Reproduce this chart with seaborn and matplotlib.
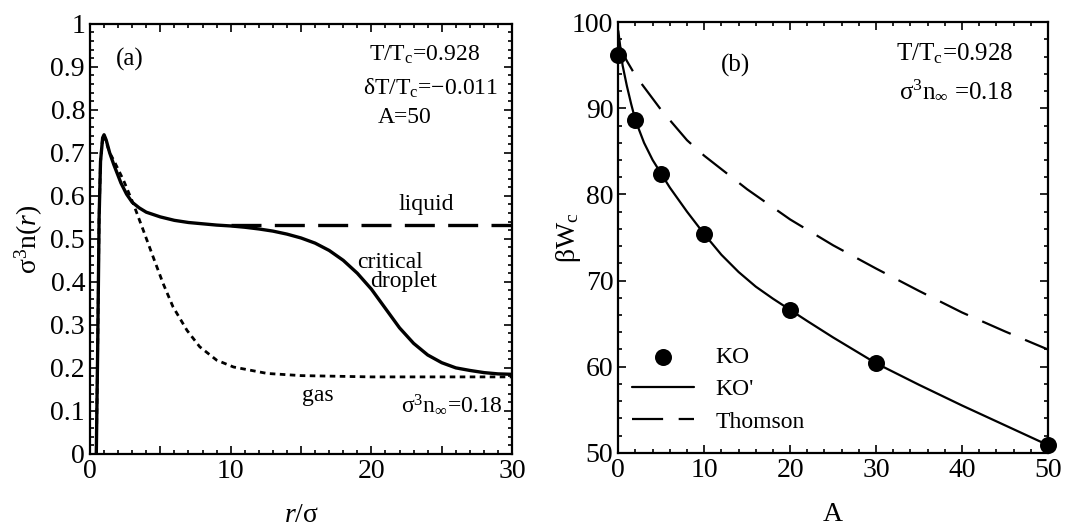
import matplotlib
matplotlib.use("Agg")
import matplotlib.pyplot as plt
from matplotlib.ticker import MultipleLocator, FuncFormatter
import seaborn as sns

# panel (a): density profiles, r/sigma vs sigma^3 n(r)
r_droplet = [0.45, 0.55, 0.65, 0.75, 0.9, 1.0, 1.15, 1.4, 1.7, 2.2, 2.6, 3.0, 3.5, 4.0,
             5.0, 6.0, 7.0, 8.0, 9.0, 10.0, 11.0, 12.0, 13.0, 14.0, 15.0, 16.0, 17.0,
             18.0, 19.0, 20.0, 21.0, 22.0, 23.0, 24.0, 25.0, 26.0, 27.0, 28.0, 29.0, 30.0]
n_droplet = [0.0, 0.25, 0.55, 0.68, 0.735, 0.742, 0.73, 0.70, 0.672, 0.63, 0.604, 0.585,
             0.572, 0.562, 0.551, 0.543, 0.538, 0.535, 0.532, 0.530, 0.527, 0.523, 0.518,
             0.511, 0.502, 0.490, 0.473, 0.450, 0.420, 0.383, 0.338, 0.293, 0.257, 0.230,
             0.212, 0.200, 0.194, 0.189, 0.186, 0.185]
r_liquid = [10.0, 30.0]
n_liquid = [0.532, 0.532]
r_gas = [0.45, 0.55, 0.65, 0.75, 0.9, 1.0, 1.15, 1.4, 1.7, 2.4, 3.1, 3.8, 4.5, 5.2, 5.9,
         6.9, 7.8, 9.0, 10.2, 12.6, 15.0, 20.0, 30.0]
n_gas = [0.0, 0.25, 0.55, 0.68, 0.735, 0.742, 0.725, 0.70, 0.682, 0.635, 0.580, 0.519,
         0.457, 0.396, 0.342, 0.287, 0.249, 0.218, 0.202, 0.187, 0.182, 0.179, 0.179]

# panel (b): barrier height vs A
A_ko = [0, 2, 5, 10, 20, 30, 50]
W_ko = [96.2, 88.6, 82.4, 75.4, 66.6, 60.4, 50.9]
A_kop = [0, 0.5, 1, 1.5, 2, 3, 4, 5, 6, 7, 8, 9, 10, 12, 14, 16, 18, 20, 22, 25, 28,
         30, 35, 40, 45, 50]
W_kop = [99.0, 95.0, 92.6, 90.5, 88.6, 86.0, 84.0, 82.4, 80.8, 79.4, 78.0, 76.7, 75.4,
         73.0, 71.0, 69.3, 67.9, 66.6, 65.3, 63.4, 61.6, 60.4, 57.9, 55.5, 53.2, 50.9]
A_thom = [0, 1, 2, 5, 8, 10, 15, 20, 25, 30, 35, 40, 45, 50]
W_thom = [97.5, 95.5, 93.8, 89.8, 86.3, 84.5, 80.6, 77.1, 74.1, 71.4, 68.8, 66.3, 64.1, 62.0]

k = "black"
sns.set_theme(style="ticks", rc={"text.color": k, "axes.labelcolor": k,
                                 "xtick.color": k, "ytick.color": k,
                                 "axes.edgecolor": k})
plt.rcParams["font.family"] = ["Liberation Serif", "DejaVu Serif"]
plt.rcParams["mathtext.fontset"] = "custom"
plt.rcParams["mathtext.rm"] = "Liberation Serif"
plt.rcParams["mathtext.it"] = "Liberation Serif:italic"
plt.rcParams["mathtext.bf"] = "Liberation Serif:bold"

fig = plt.figure(figsize=(10.66, 5.29), dpi=100)
ax1 = fig.add_axes([0.0844, 0.142, 0.396, 0.813])
ax2 = fig.add_axes([0.580, 0.144, 0.403, 0.814])

sns.lineplot(x=r_droplet, y=n_droplet, ax=ax1, color=k, lw=2.4, sort=False)
sns.lineplot(x=r_liquid, y=n_liquid, ax=ax1, color=k, lw=2.4, linestyle=(0, (9, 4)))
sns.lineplot(x=r_gas, y=n_gas, ax=ax1, color=k, lw=2.0, linestyle=(0, (2, 1.6)), sort=False)

ax1.set_xlim(0, 30)
ax1.set_ylim(0, 1)
ax1.xaxis.set_major_locator(MultipleLocator(5))
ax1.xaxis.set_minor_locator(MultipleLocator(1))
ax1.xaxis.set_major_formatter(FuncFormatter(lambda v, p: f"{v:g}" if v % 10 == 0 else ""))
ax1.yaxis.set_major_locator(MultipleLocator(0.1))
ax1.yaxis.set_minor_locator(MultipleLocator(0.02))
ax1.yaxis.set_major_formatter(FuncFormatter(lambda v, p: f"{v:g}"))
ax1.set_xlabel(r"$r$/σ", fontsize=20, labelpad=14)
ax1.set_ylabel(r"σ$^3$n($r$)", fontsize=20, labelpad=4)

t = ax1.transAxes
ax1.text(0.095, 0.916, "(a)", transform=t, fontsize=18, ha="center", va="center")
ax1.text(0.924, 0.928, r"T/T$_\mathrm{c}$=0.928", transform=t, fontsize=17, ha="right", va="center")
ax1.text(0.967, 0.851, r"δT/T$_\mathrm{c}$=−0.011", transform=t, fontsize=17, ha="right", va="center")
ax1.text(0.682, 0.781, "A=50", transform=t, fontsize=17, ha="left", va="center")
ax1.text(0.730, 0.581, "liquid", transform=t, fontsize=17, ha="left", va="center")
ax1.text(0.633, 0.444, "critical", transform=t, fontsize=17, ha="left", va="center")
ax1.text(0.664, 0.400, "droplet", transform=t, fontsize=17, ha="left", va="center")
ax1.text(0.502, 0.135, "gas", transform=t, fontsize=17, ha="left", va="center")
ax1.text(0.979, 0.114, r"σ$^3$n$_\infty$=0.18", transform=t, fontsize=17, ha="right", va="center")

sns.scatterplot(x=A_ko, y=W_ko, ax=ax2, color=k, s=150, edgecolor=k, linewidth=0,
                label="KO", clip_on=False, zorder=5)
sns.lineplot(x=A_kop, y=W_kop, ax=ax2, color=k, lw=1.6, label="KO'")
sns.lineplot(x=A_thom, y=W_thom, ax=ax2, color=k, lw=1.6, linestyle=(0, (14, 7)), label="Thomson")

ax2.set_xlim(0, 50)
ax2.set_ylim(50, 100)
ax2.xaxis.set_major_locator(MultipleLocator(10))
ax2.xaxis.set_minor_locator(MultipleLocator(2))
ax2.yaxis.set_major_locator(MultipleLocator(10))
ax2.yaxis.set_minor_locator(MultipleLocator(2))
ax2.set_xlabel("A", fontsize=20, labelpad=14)
ax2.set_ylabel(r"βW$_\mathrm{c}$", fontsize=20, labelpad=-8)

t2 = ax2.transAxes
ax2.text(0.272, 0.90, "(b)", transform=t2, fontsize=18, ha="center", va="center")
ax2.text(0.919, 0.928, r"T/T$_\mathrm{c}$=0.928", transform=t2, fontsize=18, ha="right", va="center")
ax2.text(0.919, 0.842, r"σ$^3$n$_\infty$ =0.18", transform=t2, fontsize=18, ha="right", va="center")

ax2.legend(loc="lower left", bbox_to_anchor=(0.0, 0.014), frameon=False, fontsize=17,
           handlelength=2.6, labelspacing=0.45, handletextpad=0.9, borderaxespad=0.2)

for ax in (ax1, ax2):
    ax.tick_params(which="both", direction="in", top=True, right=True, labelsize=20,
                   colors=k, width=1.2)
    ax.tick_params(which="major", length=6)
    ax.tick_params(which="minor", length=3)
    for s in ax.spines.values():
        s.set_linewidth(1.6)
        s.set_color(k)

fig.savefig("out.png", dpi=100)
